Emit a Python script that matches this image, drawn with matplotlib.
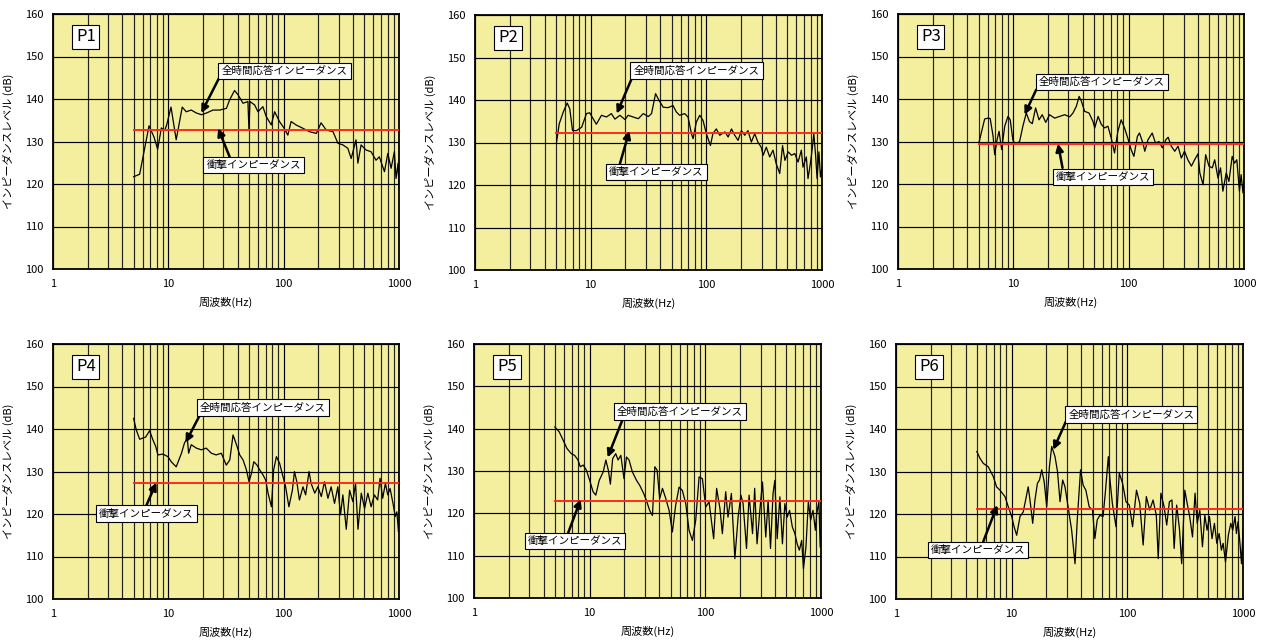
import numpy as np
import matplotlib
matplotlib.use("Agg")
import matplotlib.pyplot as plt

plt.rcParams['font.family'] = ['Noto Sans CJK JP', 'DejaVu Sans']

# ---- data (frequency Hz, level dB) ----
p1_f = [5, 5.64, 6.8, 7.5, 8.08, 8.7, 9.3, 9.7, 10.55, 11.7, 13.2, 14.3, 15.8, 17.5, 19.4, 21.4,
        24.4, 27.9, 31.9, 34, 37.5, 40.2, 44.4, 49, 50, 51, 56, 59.9, 66, 70.5, 78, 83.5, 92, 101,
        108.7, 116, 128, 147, 168, 192, 211, 234, 268, 295, 326, 360, 385, 424, 440, 469, 518, 572,
        632, 675, 748, 800, 854, 912, 943, 982, 1000]
p1_db = [121.7, 122.3, 133.7, 131.1, 128.2, 133.2, 132.6, 134, 138.1, 130.4, 138.1, 137, 137.4,
         136.7, 136.3, 136.7, 137.4, 137.4, 137.8, 139.8, 142, 141, 139, 139.4, 132.7, 139.4, 138.6,
         137, 138.2, 135.9, 133.9, 137, 134.7, 133.1, 131.5, 134.7, 133.9, 133.1, 132.3, 131.9,
         134.4, 132.7, 132.3, 129.6, 129.2, 128.4, 126, 130.4, 124.9, 129.2, 128, 127.6, 125.6,
         126.4, 122.9, 127.2, 123.7, 127.6, 121.3, 124.9, 119]
p1_ref = 132.7

p2_f = [5.07, 5.35, 5.8, 6.27, 6.6, 6.97, 7.55, 8.36, 9.2, 9.8, 10.5, 11.2, 12.4, 13.7, 15.1, 16.2,
        17.9, 19.8, 21.1, 23.3, 25.8, 28.5, 31.5, 33.6, 36.4, 39, 42.4, 46.7, 51.5, 55, 58.7, 65,
        69.5, 74.3, 76.8, 82, 87.7, 93.6, 100, 108.5, 114, 122, 130.5, 144.6, 154.4, 165, 176, 188,
        201, 215, 229, 245, 262, 279, 298, 310, 330, 353, 377, 402, 431, 456, 478, 510, 545, 582,
        621, 663, 685, 732, 757, 793, 823, 850, 880, 907, 940, 970, 1000]
p2_db = [130.1, 134.4, 137.2, 139.3, 137.9, 132.8, 132.8, 133.6, 136.8, 137, 135.6, 134.3, 136.4,
         136, 136.8, 135.5, 136.4, 135.4, 136.4, 136, 135.6, 136.8, 136.1, 136.8, 141.5, 139.9,
         138.3, 138.2, 138.7, 137.2, 136.4, 136.8, 136, 132.1, 130.9, 134.8, 136.4, 135.2, 132.1,
         129.3, 132.1, 133.2, 131.7, 132.5, 131.3, 133.2, 131.7, 130.5, 132.8, 131.7, 132.8, 130.1,
         132.1, 130.1, 128.9, 127, 128.9, 126.6, 128.2, 125, 122.7, 129.3, 125.8, 127.8, 127,
         127.4, 125.4, 128.2, 124.2, 126.6, 121.5, 125, 128.5, 132.1, 127, 121.5, 127.8, 121.9,
         124.2]
p2_ref = 132.2

p3_f = [5.04, 5.64, 6.03, 6.3, 6.68, 6.89, 7.22, 7.52, 7.92, 8.42, 8.98, 9.4, 9.9, 10.4, 11.33,
        12.1, 12.95, 13.8, 14.6, 15.6, 16.7, 17.8, 19.1, 20.6, 22.8, 25.2, 27.9, 30.8, 32.9, 35.2,
        37.2, 38.9, 41.5, 45.3, 49.1, 50.8, 54.3, 58, 61.9, 66.1, 70.6, 75.4, 80.6, 86.1, 92, 98.3,
        105, 111, 119, 124, 133, 138, 147, 160, 171, 183, 196, 210, 220, 234, 251, 268, 286, 305,
        326, 350, 373, 399, 414, 442, 465, 497, 531, 557, 595, 626, 656, 701, 740, 790, 827, 866,
        913, 944, 980, 1000]
p3_db = [129.8, 135.3, 135.5, 135.4, 131.2, 126.9, 130.4, 132.4, 128.1, 133.6, 135.9, 135.1,
         130.4, 129.3, 130, 133.6, 136.7, 134.7, 134.2, 137.9, 135.1, 136.3, 134.5, 136.3, 135.5,
         135.9, 136.3, 135.8, 136.7, 138.3, 140.6, 139.5, 137.1, 136.7, 134.7, 133.2, 135.9, 134,
         133.2, 133.6, 130.8, 127.3, 132.4, 135.1, 133.2, 130.8, 128.1, 126.5, 131.2, 132, 129.6,
         127.7, 130.4, 132, 129.6, 130, 128.5, 130.4, 131, 128.9, 127.7, 128.9, 126.1, 127.7,
         125.7, 124.2, 125.7, 127.1, 122.6, 119.8, 126.9, 124.2, 123.8, 125.7, 121.4, 123.8,
         118.3, 122.6, 120.6, 126.5, 124.9, 125.7, 118.3, 122.2, 117.9, 121]
p3_ref = 129.3

p4_f = [5, 5.27, 5.64, 6.36, 6.88, 7.36, 7.77, 8.13, 8.98, 9.9, 10.6, 11.7, 13, 13.8, 14.6, 15,
        15.8, 17.5, 19.3, 21.3, 23.6, 26, 28.8, 31.8, 34.1, 36.4, 39, 41.6, 44.5, 47.5, 50.1, 52.6,
        55.1, 58.8, 61.9, 66.2, 69.8, 73.2, 78.3, 81.9, 86.5, 92.3, 98.6, 104, 111, 119, 124, 130,
        137, 147, 155, 166, 173, 186, 198, 212, 226, 242, 258, 276, 295, 311, 326, 349, 373, 398,
        420, 441, 471, 503, 537, 573, 612, 653, 685, 722, 762, 799, 837, 887, 928, 958, 990, 1000]
p4_db = [142.5, 139.8, 137.6, 138.1, 139.6, 137.4, 135.9, 133.9, 134.1, 133.5, 132.3, 131.1,
         134.3, 136.7, 137.8, 134.3, 136.3, 135.5, 135.1, 135.5, 134.3, 133.9, 134.3, 131.5,
         132.7, 138.6, 136.3, 133.9, 132.7, 130.4, 127.6, 129.6, 132.3, 131.5, 130.4, 129.2, 128,
         124.9, 121.7, 130.4, 133.5, 131.9, 128.8, 126.4, 121.7, 125.6, 130, 127.6, 123.3, 126.4,
         124.5, 130, 127.2, 124.9, 126.4, 124.1, 127.6, 123.7, 126.4, 122.5, 126.4, 119.8, 124.5,
         116.4, 125.6, 122.9, 127.2, 116.4, 124.9, 121.3, 124.9, 121.7, 124.5, 123.3, 128.4,
         123.7, 127.2, 124.5, 126, 122.5, 119.4, 120.5, 115.8, 117.8]
p4_ref = 127.4

p5_f = [5, 5.44, 5.89, 6.37, 6.94, 7.41, 7.92, 8.3, 8.8, 9.37, 10, 10.7, 11.3, 12.1, 13.1, 13.8,
        14.5, 15.1, 15.8, 16.8, 17.6, 18.6, 19.8, 20.8, 21.9, 23.4, 25.4, 27.1, 29.3, 30.9, 33,
        34.9, 36.6, 38.3, 40.3, 42.6, 45.5, 48.6, 51.9, 55.4, 59.3, 63.3, 67.7, 72.3, 77.3, 82.6,
        88.3, 94.3, 100.8, 107.7, 118, 125.2, 133.8, 140.4, 150, 157, 168, 180, 192, 203, 212, 227,
        239, 256, 267, 280, 296, 312, 333, 349, 366, 385, 399, 418, 441, 464, 487, 510, 535, 565,
        595, 622, 650, 681, 705, 741, 777, 814, 853, 894, 918, 959, 984, 1000]
p5_db = [140.4, 139.3, 137.3, 135.3, 134.1, 133.7, 132.6, 131, 131.4, 130.2, 127.8, 125.1, 124.3,
         127.8, 129.8, 132.6, 130.2, 126.9, 132.9, 134.1, 132.6, 133.7, 128.2, 133.3, 132.6,
         129.8, 127.8, 126.6, 124.7, 123.1, 120.7, 119.5, 131, 130.2, 123.5, 125.9, 123.5, 120.7,
         115.6, 121.9, 126.2, 125.4, 122.3, 116, 113.6, 118.4, 128.6, 128.2, 121.5, 122.7, 114,
         125.9, 121.1, 115.2, 125.1, 119.1, 124.7, 109.3, 119.1, 124.3, 122.3, 111.7, 124.3,
         115.2, 125.9, 112.8, 120.7, 127.4, 114.4, 123.1, 111.7, 124.7, 127.8, 114, 123.9, 112.8,
         122.3, 119.1, 120.7, 116.8, 115.2, 112.8, 111.3, 113.6, 106.9, 112, 122.7, 118.4, 120.7,
         116, 119.9, 122.7, 112, 116]
p5_ref = 122.8

p6_f = [5, 5.32, 5.69, 6.28, 6.94, 7.4, 7.92, 8.75, 9.35, 10, 10.5, 11.05, 11.8, 12.6, 13.9, 14.4,
        15.2, 15.9, 16.7, 17.4, 18.2, 19.1, 20.1, 21.2, 22.2, 23.7, 24.9, 26.2, 27.6, 28.9, 30.9,
        33, 35.3, 36.9, 39.4, 41.5, 43.8, 46.8, 50, 52.4, 54.9, 57.8, 61.7, 64.6, 68.5, 70.8, 74.2,
        79.8, 85.2, 91, 97.3, 104, 111, 120, 128, 137, 146, 156, 167, 178, 185, 195, 208, 219, 231,
        243, 254, 267, 282, 295, 314, 329, 346, 366, 385, 402, 423, 446, 468, 489, 513, 540, 566,
        594, 622, 650, 673, 706, 747, 784, 815, 854, 877, 907, 941, 971, 1000]
p6_db = [134.7, 133.1, 131.9, 131.1, 128.8, 126.4, 125.6, 124.1, 121.7, 119.4, 117, 115, 119.4,
         120.5, 126.4, 123.3, 117.8, 123.3, 127.2, 128, 130.4, 127.6, 121.7, 131.1, 135.9, 133.5,
         130, 122.9, 128, 126.4, 121.3, 116.2, 108.3, 118.6, 130.4, 126.8, 125.6, 121.7, 120.9,
         114.2, 118.6, 119.7, 119.4, 125.2, 133.5, 128, 122.5, 117, 129.6, 127.2, 122.9, 122.1,
         117, 125.6, 122.5, 112.7, 124.1, 120.9, 123.3, 119.7, 109.5, 124.9, 121.7, 117.4, 122.9,
         123.3, 111.9, 122.1, 116.6, 108.3, 125.6, 122.5, 119.4, 114.6, 124.9, 117.8, 120.9,
         112.3, 119.7, 116.2, 119.4, 114.2, 117.8, 113.1, 115.4, 111.5, 113.1, 108.7, 115, 117.8,
         116.2, 119.4, 115.4, 118.2, 113.1, 108.3, 116.2]
p6_ref = 121.2

names = ['P1', 'P2', 'P3', 'P4', 'P5', 'P6']
freqs = [p1_f, p2_f, p3_f, p4_f, p5_f, p6_f]
levels = [p1_db, p2_db, p3_db, p4_db, p5_db, p6_db]
refs = [p1_ref, p2_ref, p3_ref, p4_ref, p5_ref, p6_ref]

# annotation boxes: (box centre, arrow start, arrow tip) in data coords
full_notes = [((102, 146.6), (27.5, 144.9), (19.3, 136.7)),
              ((82, 146.9), (22.6, 145.0), (16.8, 136.8)),
              ((58.7, 144.0), (15.8, 142.2), (12.5, 136.3)),
              ((66.2, 145.1), (18.7, 143.2), (14.1, 136.8)),
              ((60.2, 144.1), (19.4, 142.4), (14.3, 133.2)),
              ((108, 143.4), (29.5, 141.8), (22.9, 135.1))]
impact_notes = [((55, 124.5), (34, 126.4), (27, 133.1)),
                ((37, 123.1), (17.9, 125.0), (21.6, 132.7)),
                ((59.9, 121.6), (26.7, 123.8), (24.4, 129.5)),
                ((6.45, 120.1), (6.45, 122.0), (7.87, 127.4)),
                ((7.48, 113.5), (6.5, 115.3), (8.37, 123.3)),
                ((5.11, 111.6), (5.68, 113.5), (7.52, 122.1))]

full_txt = '全時間応答インピーダンス'
impact_txt = '衝撃インピーダンス'

W, H = 1261, 641
# axes boxes in pixels: left, top, right, bottom
boxes = [(53, 14, 399, 269), (475, 15, 822, 270), (898, 14, 1244, 269),
         (53, 344, 399, 599), (474, 344, 821, 598), (896, 344, 1243, 599)]

fig = plt.figure(figsize=(W / 100, H / 100), dpi=100)
bg = '#F3EF9F'

for i in range(6):
    l, t, r, b = boxes[i]
    ax = fig.add_axes([l / W, 1 - b / H, (r - l) / W, (b - t) / H])
    ax.set_facecolor(bg)
    ax.set_xscale('log')
    ax.set_xlim(1, 1000)
    ax.set_ylim(100, 160)
    ax.set_yticks(np.arange(100, 161, 10))
    ax.set_xticks([1, 10, 100, 1000])
    ax.set_xticklabels(['1', '10', '100', '1000'])
    ax.grid(True, which='major', color='black', lw=0.85)
    ax.grid(True, which='minor', axis='x', color='#222222', lw=0.85)
    ax.tick_params(which='both', length=0, labelsize=8, pad=7)
    for s in ax.spines.values():
        s.set_linewidth(1.3)
    ax.set_axisbelow(True)

    ax.plot(freqs[i], levels[i], color='black', lw=0.9, zorder=3)
    ax.plot([5, 1000], [refs[i], refs[i]], color='#FF2A1A', lw=1.4, zorder=4)

    ax.set_xlabel('周波数(Hz)', fontsize=8, labelpad=6)
    ax.set_ylabel('インピーダンスレベル (dB)', fontsize=8, labelpad=8)

    ax.text(0.095, 0.91, names[i], transform=ax.transAxes, fontsize=12,
            ha='center', va='center', zorder=6,
            bbox=dict(boxstyle='square,pad=0.22', fc='white', ec='black', lw=0.8))

    for note, txt in [(full_notes[i], full_txt), (impact_notes[i], impact_txt)]:
        c, s0, tip = note
        ax.annotate('', xy=tip, xytext=s0, zorder=5,
                    arrowprops=dict(arrowstyle='-|>', color='black', lw=1.8,
                                    mutation_scale=11, shrinkA=0, shrinkB=0))
        ax.text(c[0], c[1], txt, fontsize=7.6, ha='center', va='center', zorder=6,
                bbox=dict(boxstyle='square,pad=0.3', fc='white', ec='black', lw=0.8))

fig.savefig('out.png', dpi=100)
